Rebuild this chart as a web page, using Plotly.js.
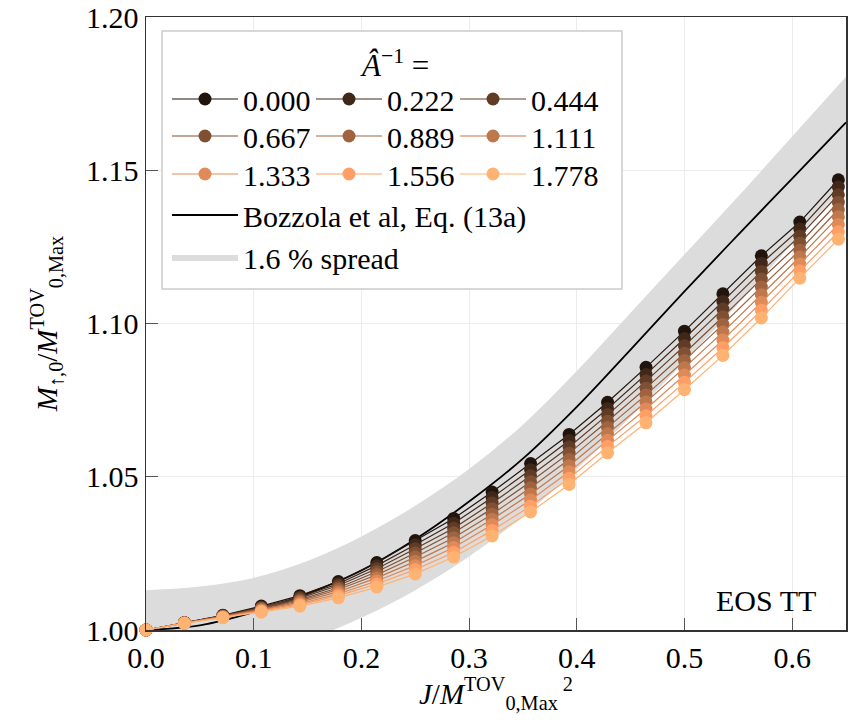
<!DOCTYPE html>
<html>
<head>
<meta charset="utf-8">
<script src="https://cdn.plot.ly/plotly-3.0.1.min.js"></script>
<style>html,body{margin:0;padding:0;background:#fff;}#chart{width:850px;height:725px;}</style>
</head>
<body>
<div id="chart"></div>
<script>
// ---- data ----
const Jx = [0, 0.0357, 0.0714, 0.1071, 0.1429, 0.1786, 0.2143, 0.25, 0.2857, 0.3214, 0.3571, 0.3929, 0.4286, 0.4643, 0.5, 0.5357, 0.5714, 0.6071, 0.6429];

const seriesNames = ["0.000", "0.222", "0.444", "0.667", "0.889", "1.111", "1.333", "1.556", "1.778"];
const seriesColors = ["#20140d", "#402819", "#603c26", "#805033", "#9f643f", "#bf784c", "#df8b59", "#ff9f66", "#ffb372"];

const M_000 = [1.0000,1.0024,1.0048,1.0078,1.0112,1.0158,1.0220,1.0292,1.0364,1.0450,1.0543,1.0638,1.0743,1.0857,1.0975,1.1097,1.1221,1.1331,1.1469];
const M_222 = [1.0000,1.0024,1.0047,1.0075,1.0108,1.0151,1.0210,1.0278,1.0348,1.0432,1.0523,1.0618,1.0722,1.0834,1.0951,1.1072,1.1196,1.1308,1.1445];
const M_444 = [1.0000,1.0023,1.0046,1.0073,1.0104,1.0145,1.0200,1.0265,1.0332,1.0414,1.0503,1.0597,1.0702,1.0812,1.0927,1.1047,1.1170,1.1285,1.1420];
const M_667 = [1.0000,1.0023,1.0045,1.0071,1.0099,1.0138,1.0190,1.0251,1.0317,1.0396,1.0484,1.0577,1.0681,1.0789,1.0903,1.1022,1.1145,1.1262,1.1396];
const M_889 = [1.0000,1.0023,1.0044,1.0068,1.0095,1.0132,1.0180,1.0238,1.0301,1.0378,1.0464,1.0556,1.0661,1.0767,1.0879,1.0997,1.1119,1.1239,1.1372];
const M_1111 = [1.0000,1.0023,1.0043,1.0066,1.0091,1.0125,1.0170,1.0224,1.0285,1.0361,1.0444,1.0536,1.0640,1.0744,1.0856,1.0972,1.1094,1.1217,1.1348];
const M_1333 = [1.0000,1.0023,1.0042,1.0063,1.0086,1.0118,1.0160,1.0210,1.0269,1.0343,1.0424,1.0516,1.0619,1.0721,1.0832,1.0946,1.1069,1.1194,1.1323];
const M_1556 = [1.0000,1.0022,1.0041,1.0061,1.0082,1.0112,1.0150,1.0197,1.0253,1.0325,1.0404,1.0495,1.0599,1.0699,1.0808,1.0921,1.1043,1.1171,1.1299];
const M_1778 = [1.0000,1.0022,1.0040,1.0058,1.0078,1.0105,1.0140,1.0183,1.0238,1.0307,1.0385,1.0475,1.0578,1.0676,1.0784,1.0896,1.1018,1.1148,1.1275];
const seriesValues = [M_000, M_222, M_444, M_667, M_889, M_1111, M_1333, M_1556, M_1778];

// Bozzola et al. fit curve
const fitX = [0, 0.05, 0.10, 0.15, 0.20, 0.25, 0.30, 0.35, 0.40, 0.45, 0.50, 0.55, 0.60, 0.65];
const fitY = [1.0000, 1.0015, 1.0058, 1.0118, 1.0194, 1.0296, 1.0419, 1.0559, 1.0728, 1.0915, 1.1105, 1.1290, 1.1473, 1.1656];
// 1.6 % spread band edges
const bandUpper = [1.0130, 1.0142, 1.0170, 1.0225, 1.0305, 1.0405, 1.0525, 1.0670, 1.0845, 1.1035, 1.1225, 1.1415, 1.1610, 1.1805];
const bandLower = [0.9860, 0.9885, 0.9920, 0.9968, 1.0040, 1.0130, 1.0240, 1.0370, 1.0525, 1.0695, 1.0875, 1.1065, 1.1260, 1.1455];

const legendOf = ["legend", "legend", "legend", "legend2", "legend2", "legend2", "legend3", "legend3", "legend3"];

// ---- traces ----
const FONT = "Liberation Serif";
const traces = [];
traces.push({x: fitX, y: bandLower, type: "scatter", mode: "lines", line: {width: 0, shape: "spline", color: "rgba(0,0,0,0)"}, showlegend: false, hoverinfo: "skip"});
traces.push({x: fitX, y: bandUpper, type: "scatter", mode: "lines", fill: "tonexty", fillcolor: "#dcdcdc", line: {width: 0, shape: "spline", color: "#dcdcdc"}, name: "1.6 % spread", legend: "legend4"});
traces.push({x: fitX, y: fitY, type: "scatter", mode: "lines", line: {color: "#000000", width: 1.8, shape: "spline"}, name: "Bozzola et al, Eq. (13a)", legend: "legend4"});
for (let i = 0; i < seriesValues.length; i++) {
  traces.push({
    x: Jx, y: seriesValues[i], type: "scatter", mode: "lines+markers",
    name: seriesNames[i], legend: legendOf[i], cliponaxis: false,
    line: {color: seriesColors[i], width: 1.2},
    marker: {color: seriesColors[i], size: 13, line: {width: 0}}
  });
}

const plotL = 146, plotT = 17, plotW = 700, plotH = 613;
const px2x = p => (p - plotL) / plotW;
const px2y = p => 1 - (p - plotT) / plotH;

const legBase = {xanchor: "left", yanchor: "top", bgcolor: "rgba(0,0,0,0)", borderwidth: 0, font: {family: FONT, size: 30, color: "#000"}, itemwidth: 66, tracegroupgap: 0, itemclick: false};
const rowLeg = Object.assign({}, legBase, {orientation: "h", entrywidth: 63, entrywidthmode: "pixels"});

const layout = {
  width: 850, height: 725,
  margin: {l: plotL, r: 850 - plotL - plotW, t: plotT, b: 725 - plotT - plotH},
  paper_bgcolor: "#fff", plot_bgcolor: "#fff",
  font: {family: FONT, size: 30, color: "#000"},
  xaxis: {
    range: [0, 0.65], tickvals: [0, 0.1, 0.2, 0.3, 0.4, 0.5, 0.6], tickformat: ".1f",
    ticks: "inside", ticklen: 12, tickcolor: "#555", tickwidth: 1,
    showgrid: true, gridcolor: "#ececec", gridwidth: 1, zeroline: false,
    showline: true, linecolor: "#333", linewidth: 1.5, mirror: true,
    tickfont: {family: FONT, size: 30},
    title: {text: "<i>J</i>/<i>M</i><sup>TOV</sup><sub>0,Max</sub><sup> 2</sup>", font: {family: FONT, size: 29}, standoff: 10}
  },
  yaxis: {
    range: [1.0, 1.2], tickvals: [1.0, 1.05, 1.1, 1.15, 1.2], tickformat: ".2f",
    ticks: "inside", ticklen: 12, tickcolor: "#555", tickwidth: 1,
    showgrid: true, gridcolor: "#ececec", gridwidth: 1, zeroline: false,
    showline: true, linecolor: "#333", linewidth: 1.5, mirror: true,
    tickfont: {family: FONT, size: 30},
    title: {text: "<i>M</i><sub>↑,0</sub>/<i>M</i><sup>TOV</sup><sub>0,Max</sub>", font: {family: FONT, size: 29}, standoff: 20}
  },
  legend: Object.assign({}, rowLeg, {x: px2x(167), y: px2y(73)}),
  legend2: Object.assign({}, rowLeg, {x: px2x(167), y: px2y(110)}),
  legend3: Object.assign({}, rowLeg, {x: px2x(167), y: px2y(148)}),
  legend4: Object.assign({}, legBase, {orientation: "v", x: px2x(167), y: px2y(189)}),
  shapes: [{type: "rect", xref: "paper", yref: "paper", x0: px2x(162), x1: px2x(622), y0: px2y(289), y1: px2y(31), line: {color: "#cccccc", width: 1.5}, fillcolor: "#ffffff", layer: "above"}],
  annotations: [
    {xref: "paper", yref: "paper", x: px2x(394), y: px2y(63), text: "<i>Â</i><sup>−1</sup> =", showarrow: false, xanchor: "center", yanchor: "middle", font: {family: FONT, size: 31}},
    {xref: "paper", yref: "paper", x: px2x(818), y: px2y(600), text: "EOS TT", showarrow: false, xanchor: "right", yanchor: "middle", font: {family: FONT, size: 30}}
  ],
  showlegend: true
};

Plotly.newPlot("chart", traces, layout, {staticPlot: true, displayModeBar: false});
</script>
</body>
</html>
